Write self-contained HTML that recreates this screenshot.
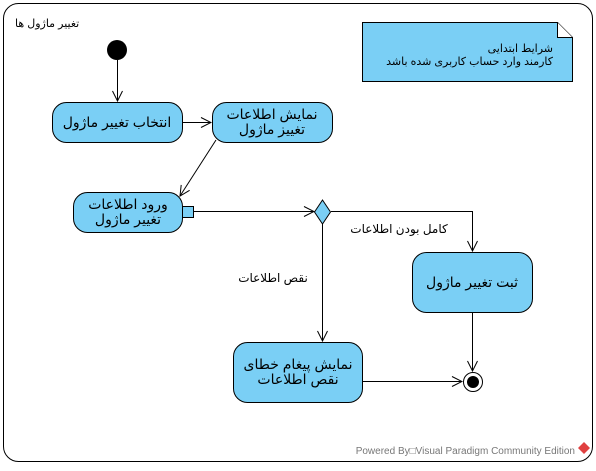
<!DOCTYPE html>
<html><head><meta charset="utf-8"><style>
body{margin:0;background:#fff}
text{font-family:"Liberation Sans","DejaVu Sans",sans-serif}
</style></head><body>
<svg width="596" height="466" xmlns="http://www.w3.org/2000/svg">
<defs><marker id="a" markerWidth="12" markerHeight="12" refX="11" refY="6" orient="auto" markerUnits="userSpaceOnUse"><path d="M1,1 L11,6 L1,11" fill="none" stroke="#000" stroke-width="1"/></marker></defs>
<rect width="596" height="466" fill="#fff"/>
<rect x="3.5" y="3.5" width="589" height="458" rx="15" fill="none" stroke="#000"/>
<text x="15" y="27" font-size="11">تغییر ماژول ها</text>
<path d="M362.5,22.5 H557.5 L572.5,37.5 V81.5 H362.5 Z" fill="#7acff5" stroke="#000"/>
<path d="M557.5,22.5 V37.5 H572.5" fill="#fff" stroke="#000"/>
<text x="553" y="52" font-size="11" text-anchor="start" direction="rtl">شرایط ابتدایی</text>
<text x="553" y="65" font-size="11" text-anchor="start" direction="rtl">کارمند وارد حساب کاربری شده باشد</text>
<circle cx="117" cy="50" r="10" fill="#000"/>
<g stroke="#000" fill="none">
<line x1="117.5" y1="60" x2="117.5" y2="101" marker-end="url(#a)"/>
<line x1="182" y1="122.5" x2="211" y2="122.5" marker-end="url(#a)"/>
<line x1="216" y1="140" x2="180" y2="196" marker-end="url(#a)"/>
<line x1="193" y1="211.5" x2="314" y2="211.5" marker-end="url(#a)"/>
<polyline points="331,211.5 472.5,211.5 472.5,251" marker-end="url(#a)"/>
<line x1="322.5" y1="224" x2="322.5" y2="341" marker-end="url(#a)"/>
<line x1="472.5" y1="312" x2="472.5" y2="371" marker-end="url(#a)"/>
<line x1="362" y1="381.5" x2="462" y2="381.5" marker-end="url(#a)"/>
</g>
<g fill="#7acff5" stroke="#000">
<rect x="52.5" y="102.5" width="130" height="40" rx="14"/>
<rect x="212.5" y="102.5" width="120" height="40" rx="14"/>
<rect x="73.5" y="192.5" width="109" height="40" rx="14"/>
<rect x="182.5" y="206.5" width="11" height="11"/>
<path d="M322.5,200 L330.5,212 L322.5,224 L314.5,212 Z"/>
<rect x="412.5" y="252.5" width="120" height="60" rx="14"/>
<rect x="233.5" y="342.5" width="129" height="60" rx="14"/>
</g>
<circle cx="473" cy="382" r="9.5" fill="#fff" stroke="#000"/>
<circle cx="473" cy="382" r="6" fill="#000"/>
<g font-size="14" text-anchor="middle" direction="rtl">
<text x="117" y="127">انتخاب تغییر ماژول</text>
<text x="272" y="119">نمایش اطلاعات</text>
<text x="272" y="134">تغییز ماژول</text>
<text x="128" y="209">ورود اطلاعات</text>
<text x="128" y="224">تغییر ماژول</text>
<text x="472" y="287">ثبت تغییر ماژول</text>
<text x="298" y="369">نمایش پیغام خطای</text>
<text x="298" y="384">نقص اطلاعات</text>
</g>
<text x="399" y="233" font-size="12" text-anchor="middle" direction="rtl">کامل بودن اطلاعات</text>
<text x="273" y="282" font-size="12" text-anchor="middle" direction="rtl">نقص اطلاعات</text>
<text x="575" y="454" font-size="10" fill="#777" text-anchor="end">Powered By□Visual Paradigm Community Edition</text>
<path d="M584,442 L590,448 L584,454 L578,448 Z" fill="#e04040"/>
</svg>
</body></html>
